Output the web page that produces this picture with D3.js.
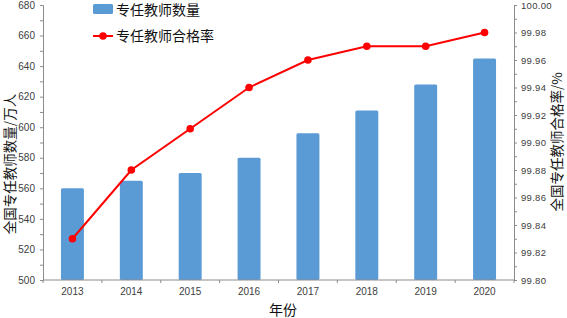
<!DOCTYPE html>
<html><head><meta charset="utf-8">
<script src="https://cdn.jsdelivr.net/npm/d3@7"></script>
<style>body{margin:0;background:#fff}svg{display:block}</style>
</head><body>
<svg id="c" width="567" height="318"></svg>
<script>
const years = ["2013","2014","2015","2016","2017","2018","2019","2020"];
const teacherCount = [560, 565, 570, 580, 596, 611, 628, 645];
const qualifiedRate = [99.83, 99.88, 99.91, 99.94, 99.96, 99.97, 99.97, 99.98];
const leftTicks = [500,520,540,560,580,600,620,640,660,680];
const rightTicks = [99.80,99.82,99.84,99.86,99.88,99.90,99.92,99.94,99.96,99.98,100.00];
const seriesNames = ["专任教师数量","专任教师合格率"];

const svg = d3.select("#c");
const L = 43, R = 514, T = 5, B = 280;
const x = d3.scaleBand().domain(years).range([L, R]).paddingInner(0.61).paddingOuter(0.305);
const xc = d3.scaleBand().domain(years).range([L, R]);
const yL = d3.scaleLinear().domain([500, 680]).range([B, T]);
const yR = d3.scaleLinear().domain([99.80, 100.00]).range([B, T]);
const axisColor = "#8c8c8c", labelColor = "#404040";
const tickFont = "Liberation Sans Narrow, Arial Narrow, Liberation Sans, sans-serif";

// bars
svg.append("g").selectAll("rect").data(years).join("rect")
  .attr("x", d => x(d)).attr("width", x.bandwidth())
  .attr("y", (d,i) => yL(teacherCount[i])).attr("height", (d,i) => B - yL(teacherCount[i]))
  .attr("fill", "#5B9BD5").attr("rx", 1.5);

// left axis
const gl = svg.append("g").attr("transform", `translate(${L},0)`)
  .call(d3.axisLeft(yL).tickValues(d3.range(500, 681, 10)).tickSize(3).tickFormat(d => leftTicks.includes(d) ? d : ""));
gl.select(".domain").attr("stroke", axisColor);
gl.selectAll(".tick line").attr("stroke", axisColor);
gl.selectAll("text").attr("fill", labelColor).attr("font-family", tickFont).attr("font-size", 10).attr("x", -8);

// right axis
const gr = svg.append("g").attr("transform", `translate(${R},0)`)
  .call(d3.axisRight(yR).tickValues(d3.range(0, 21).map(i => 99.80 + i * 0.01)).tickSize(3)
    .tickFormat(d => { const k = Math.round((d - 99.80) * 100); return k % 2 === 0 ? d3.format(".2f")(rightTicks[k/2]) : ""; }));
gr.select(".domain").attr("stroke", axisColor);
gr.selectAll(".tick line").attr("stroke", axisColor);
gr.selectAll("text").attr("fill", labelColor).attr("font-family", "Liberation Sans, sans-serif").attr("font-size", 9.5).attr("x", 7).attr("letter-spacing", 0.3);

// bottom axis
const gb = svg.append("g").attr("transform", `translate(0,${B})`)
  .call(d3.axisBottom(x).tickSize(0).tickPadding(8));
gb.select(".domain").remove();
gb.selectAll("text").attr("fill", labelColor).attr("font-family", tickFont).attr("font-size", 10);
svg.append("line").attr("x1", L).attr("x2", R).attr("y1", B).attr("y2", B).attr("stroke", axisColor);
svg.append("g").selectAll("line").data(years.concat(["end"])).join("line")
  .attr("x1", (d,i) => L + i * xc.step()).attr("x2", (d,i) => L + i * xc.step())
  .attr("y1", B).attr("y2", B + 3).attr("stroke", axisColor);

// line
const line = d3.line().x((d,i) => x(years[i]) + x.bandwidth()/2).y(d => yR(d));
svg.append("path").datum(qualifiedRate).attr("d", line).attr("fill", "none").attr("stroke", "#FF0000").attr("stroke-width", 2);
svg.append("g").selectAll("circle").data(qualifiedRate).join("circle")
  .attr("cx", (d,i) => x(years[i]) + x.bandwidth()/2).attr("cy", d => yR(d)).attr("r", 3.8).attr("fill", "#FF0000");

// titles
const cjk = "Noto Sans CJK SC, sans-serif";
svg.append("text").attr("transform", "translate(15,164) rotate(-90)").attr("text-anchor", "middle")
  .attr("font-family", cjk).attr("font-size", 13.5).attr("fill", "#111").text("全国专任教师数量/万人");
svg.append("text").attr("transform", "translate(562,142) rotate(-90)").attr("text-anchor", "middle")
  .attr("font-family", cjk).attr("font-size", 13.5).attr("fill", "#111").text("全国专任教师合格率/%");
svg.append("text").attr("x", 283).attr("y", 315).attr("text-anchor", "middle")
  .attr("font-family", cjk).attr("font-size", 14).attr("fill", "#111").text("年份");

// legend
svg.append("rect").attr("x", 93).attr("y", 4).attr("width", 20).attr("height", 10).attr("rx", 1.5).attr("fill", "#5B9BD5");
svg.append("text").attr("x", 116).attr("y", 15).attr("font-family", cjk).attr("font-size", 14).attr("fill", "#111").text(seriesNames[0]);
svg.append("line").attr("x1", 93).attr("x2", 113).attr("y1", 36).attr("y2", 36).attr("stroke", "#FF0000").attr("stroke-width", 2);
svg.append("circle").attr("cx", 103).attr("cy", 36).attr("r", 3.8).attr("fill", "#FF0000");
svg.append("text").attr("x", 116).attr("y", 41).attr("font-family", cjk).attr("font-size", 14).attr("fill", "#111").text(seriesNames[1]);
</script>
</body></html>
